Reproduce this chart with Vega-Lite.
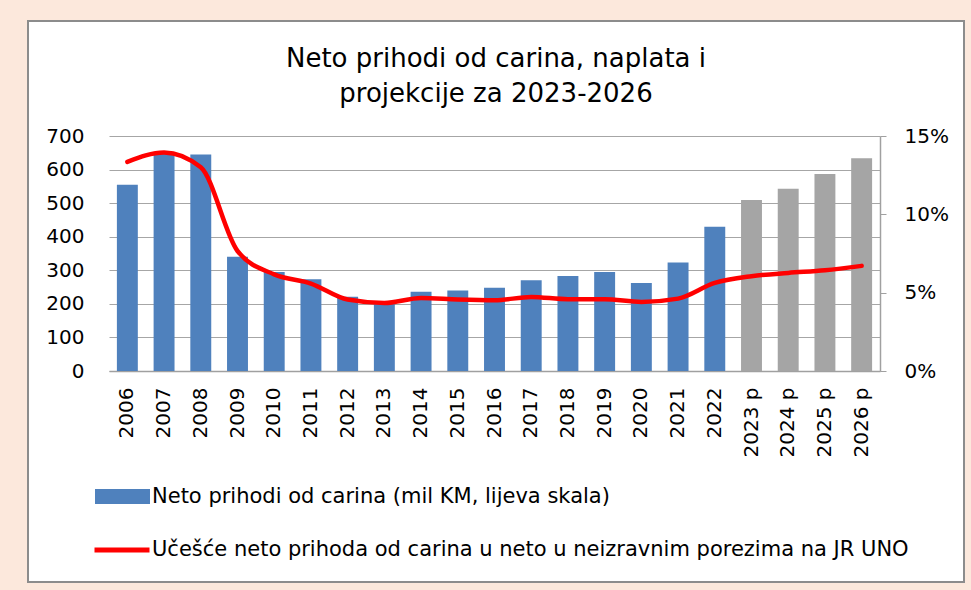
{
  "$schema": "https://vega.github.io/schema/vega-lite/v6.json",
  "width": 936,
  "height": 561,
  "autosize": {"type": "none"},
  "padding": {"left": 28, "top": 21, "right": 7, "bottom": 8},
  "background": "#fce8dc",
  "config": {
    "view": {"fill": "white", "stroke": "#8c8c8c", "strokeWidth": 2},
    "font": "DejaVu Sans"
  },
  "title": {
    "text": ["Neto prihodi od carina, naplata i", "projekcije za 2023-2026"],
    "fontSize": 26,
    "fontWeight": "normal",
    "color": "#000000",
    "anchor": "middle",
    "frame": "group",
    "baseline": "top",
    "offset": -86,
    "lineHeight": 35
  },
  "data": {
    "values": [
      {"label": "2006", "value": 555, "pct": 0.1335, "serija": "Neto prihodi od carina (mil KM, lijeva skala)"},
      {"label": "2007", "value": 650, "pct": 0.1395, "serija": "Neto prihodi od carina (mil KM, lijeva skala)"},
      {"label": "2008", "value": 645, "pct": 0.1300, "serija": "Neto prihodi od carina (mil KM, lijeva skala)"},
      {"label": "2009", "value": 340, "pct": 0.0766, "serija": "Neto prihodi od carina (mil KM, lijeva skala)"},
      {"label": "2010", "value": 295, "pct": 0.0617, "serija": "Neto prihodi od carina (mil KM, lijeva skala)"},
      {"label": "2011", "value": 273, "pct": 0.0558, "serija": "Neto prihodi od carina (mil KM, lijeva skala)"},
      {"label": "2012", "value": 221, "pct": 0.0456, "serija": "Neto prihodi od carina (mil KM, lijeva skala)"},
      {"label": "2013", "value": 203, "pct": 0.0434, "serija": "Neto prihodi od carina (mil KM, lijeva skala)"},
      {"label": "2014", "value": 236, "pct": 0.0466, "serija": "Neto prihodi od carina (mil KM, lijeva skala)"},
      {"label": "2015", "value": 240, "pct": 0.0456, "serija": "Neto prihodi od carina (mil KM, lijeva skala)"},
      {"label": "2016", "value": 248, "pct": 0.0451, "serija": "Neto prihodi od carina (mil KM, lijeva skala)"},
      {"label": "2017", "value": 270, "pct": 0.0473, "serija": "Neto prihodi od carina (mil KM, lijeva skala)"},
      {"label": "2018", "value": 283, "pct": 0.0458, "serija": "Neto prihodi od carina (mil KM, lijeva skala)"},
      {"label": "2019", "value": 295, "pct": 0.0458, "serija": "Neto prihodi od carina (mil KM, lijeva skala)"},
      {"label": "2020", "value": 262, "pct": 0.0441, "serija": "Neto prihodi od carina (mil KM, lijeva skala)"},
      {"label": "2021", "value": 323, "pct": 0.0462, "serija": "Neto prihodi od carina (mil KM, lijeva skala)"},
      {"label": "2022", "value": 430, "pct": 0.0562, "serija": "Neto prihodi od carina (mil KM, lijeva skala)"},
      {"label": "2023 p", "value": 509, "pct": 0.0605, "serija": "Projekcija"},
      {"label": "2024 p", "value": 543, "pct": 0.0626, "serija": "Projekcija"},
      {"label": "2025 p", "value": 587, "pct": 0.0643, "serija": "Projekcija"},
      {"label": "2026 p", "value": 634, "pct": 0.0671, "serija": "Projekcija"}
    ]
  },
  "encoding": {
    "x": {
      "field": "label",
      "type": "nominal",
      "sort": null,
      "scale": {"type": "band", "range": [81, 852], "paddingInner": 0.43, "paddingOuter": 0.215},
      "axis": {
        "orient": "bottom",
        "offset": -211,
        "title": null,
        "labelAngle": -90,
        "labelAlign": "right",
        "labelBaseline": "middle",
        "labelFontSize": 20,
        "labelColor": "#000000",
        "labelPadding": 16,
        "ticks": false,
        "domain": true,
        "domainColor": "#a0a0a0",
        "domainWidth": 1.5,
        "grid": false
      }
    }
  },
  "layer": [
    {
      "mark": {"type": "bar"},
      "encoding": {
        "y": {
          "field": "value",
          "type": "quantitative",
          "scale": {"domain": [0, 700], "range": [350, 115], "nice": false, "zero": true},
          "axis": {
            "orient": "left",
            "offset": -81,
            "title": null,
            "values": [0, 100, 200, 300, 400, 500, 600, 700],
            "grid": true,
            "gridColor": "#a6a6a6",
            "gridWidth": 1.2,
            "domain": false,
            "ticks": false,
            "labelFontSize": 20,
            "labelColor": "#000000",
            "labelPadding": 25
          }
        },
        "fill": {
          "field": "serija",
          "type": "nominal",
          "scale": {
            "domain": ["Neto prihodi od carina (mil KM, lijeva skala)", "Projekcija"],
            "range": ["#4f81bd", "#a5a5a5"]
          },
          "legend": {
            "orient": "none",
            "legendX": 67,
            "legendY": 448,
            "title": null,
            "values": ["Neto prihodi od carina (mil KM, lijeva skala)"],
            "symbolType": "M-1,-0.27H1V0.27H-1Z",
            "symbolSize": 3025,
            "symbolStrokeWidth": 0,
            "symbolOpacity": 1,
            "labelFontSize": 21,
            "labelColor": "#000000",
            "labelLimit": 900,
            "labelOffset": 2
          }
        }
      }
    },
    {
      "mark": {"type": "line", "interpolate": "monotone", "strokeWidth": 4.5, "strokeCap": "round"},
      "encoding": {
        "y": {
          "field": "pct",
          "type": "quantitative",
          "scale": {"domain": [0, 0.15], "range": [350, 115], "nice": false},
          "axis": {
            "orient": "right",
            "offset": -84,
            "title": null,
            "values": [0, 0.05, 0.1, 0.15],
            "format": ".0%",
            "grid": false,
            "domain": true,
            "domainColor": "#a0a0a0",
            "domainWidth": 1.5,
            "ticks": true,
            "tickSize": 6,
            "tickColor": "#a0a0a0",
            "labelFontSize": 20,
            "labelColor": "#000000",
            "labelPadding": 18
          }
        },
        "stroke": {
          "datum": "Učešće neto prihoda od carina u neto u neizravnim porezima na JR UNO",
          "type": "nominal",
          "scale": {"range": ["#ff0000"]},
          "legend": {
            "orient": "none",
            "legendX": 64,
            "legendY": 499,
            "title": null,
            "symbolType": "stroke",
            "symbolSize": 3025,
            "symbolStrokeWidth": 5,
            "labelFontSize": 21,
            "labelColor": "#000000",
            "labelLimit": 900,
            "labelOffset": 0
          }
        }
      }
    }
  ],
  "resolve": {"scale": {"y": "independent", "fill": "independent", "stroke": "independent"}, "axis": {"y": "independent"}}
}
